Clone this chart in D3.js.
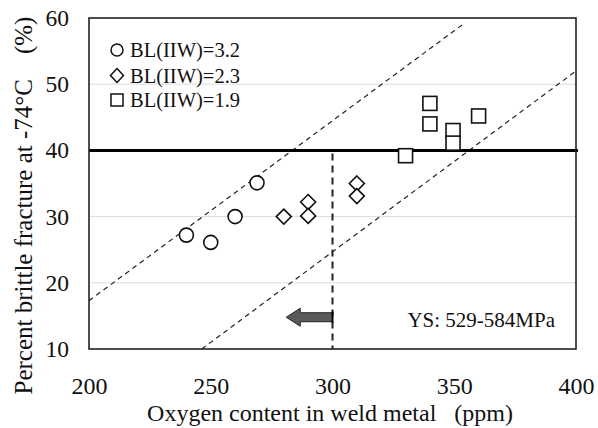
<!DOCTYPE html>
<html><head><meta charset="utf-8">
<script src="https://cdn.jsdelivr.net/npm/d3@7/dist/d3.min.js"></script>
<style>
body{margin:0;background:#fff;}
text{font-family:"Liberation Serif","Times New Roman",serif;fill:#111;}
</style></head>
<body><svg id="c" width="598" height="428"></svg>
<script>
// Data
const circles = [[240,27.2],[250,26.1],[260,30.0],[269,35.1]];           // BL(IIW)=3.2
const diamonds = [[280,30.0],[290,32.2],[290,30.1],[310,35.0],[310,33.1]]; // BL(IIW)=2.3
const squares = [[330,39.2],[340,47.1],[340,44.0],[349.5,43.0],[349.5,41.1],[360,45.2]]; // BL(IIW)=1.9
const legendLabels = ["BL(IIW)=3.2","BL(IIW)=2.3","BL(IIW)=1.9"];
const xTicks = [200,250,300,350,400];
const yTicks = [10,20,30,40,50,60];
const upperBand = [[200,17.3],[354.5,59.3]];
const lowerBand = [[246.3,10],[400,52.0]];
const limitY = 40;
const limitX = 300;
const arrowFrom = [300,14.8], arrowTo = [281,14.8];
const note = "YS: 529-584MPa";

const svg = d3.select("#c");
const L=89,R=576,T=18,B=349;
const x = d3.scaleLinear().domain([200,400]).range([L,R]);
const y = d3.scaleLinear().domain([10,60]).range([B,T]);

// gridlines
svg.append("g").selectAll("line").data(yTicks.filter(d=>d!==10&&d!==60&&d!==40)).join("line")
  .attr("x1",L).attr("x2",R).attr("y1",d=>y(d)).attr("y2",d=>y(d))
  .attr("stroke","#dcdcdc").attr("stroke-width",1);

// y tick labels
const yAxis = d3.axisLeft(y).tickValues(yTicks).tickSize(0).tickPadding(20);
const ga = svg.append("g").attr("transform",`translate(${L},0)`).call(yAxis);
ga.select(".domain").remove();
ga.selectAll("text").attr("font-size",23.5).attr("font-family","Liberation Serif").attr("fill","#111");

const xAxis = d3.axisBottom(x).tickValues(xTicks).tickSize(0).tickPadding(28);
const gx = svg.append("g").attr("transform",`translate(0,${B})`).call(xAxis);
gx.select(".domain").remove();
gx.selectAll("text").attr("font-size",24).attr("font-family","Liberation Serif").attr("fill","#111");

// band lines
const line = d3.line().x(d=>x(d[0])).y(d=>y(d[1]));
[upperBand,lowerBand].forEach(b=>{
  svg.append("path").attr("d",line(b)).attr("fill","none").attr("stroke","#222")
    .attr("stroke-width",1.2).attr("stroke-dasharray","5,4");
});

// limit lines
svg.append("line").attr("x1",L).attr("x2",R+2).attr("y1",y(limitY)).attr("y2",y(limitY))
  .attr("stroke","#000").attr("stroke-width",3);
svg.append("line").attr("x1",x(limitX)).attr("x2",x(limitX)).attr("y1",y(limitY)+3).attr("y2",B)
  .attr("stroke","#222").attr("stroke-width",2).attr("stroke-dasharray","7,5");

// arrow
{
  const x0=x(arrowFrom[0]), x1=x(arrowTo[0]), yc=y(arrowFrom[1]);
  const hl=14, bw=4.5, hw=9;
  const pts=[[x1,yc],[x1+hl,yc-hw],[x1+hl,yc-bw],[x0,yc-bw],[x0,yc+bw],[x1+hl,yc+bw],[x1+hl,yc+hw]];
  svg.append("path").attr("d","M"+pts.map(p=>p.join(",")).join("L")+"Z")
    .attr("fill","#5a5a5a").attr("stroke","#222").attr("stroke-width",1);
  svg.append("line").attr("x1",x0).attr("x2",x0).attr("y1",yc-bw-1).attr("y2",yc+bw+1)
    .attr("stroke","#000").attr("stroke-width",2);
}

// markers
svg.append("g").selectAll("circle").data(circles).join("circle")
  .attr("cx",d=>x(d[0])).attr("cy",d=>y(d[1])).attr("r",7)
  .attr("fill","#fff").attr("stroke","#111").attr("stroke-width",1.6);
svg.append("g").selectAll("path").data(diamonds).join("path")
  .attr("d",d=>{const cx=x(d[0]),cy=y(d[1]),s=7.5;return `M${cx},${cy-s}L${cx+s},${cy}L${cx},${cy+s}L${cx-s},${cy}Z`;})
  .attr("fill","#fff").attr("stroke","#111").attr("stroke-width",1.6);
svg.append("g").selectAll("rect").data(squares).join("rect")
  .attr("x",d=>x(d[0])-7).attr("y",d=>y(d[1])-7).attr("width",14).attr("height",14)
  .attr("fill","#fff").attr("stroke","#111").attr("stroke-width",1.6);

// frame
svg.append("rect").attr("x",L).attr("y",T).attr("width",R-L).attr("height",B-T)
  .attr("fill","none").attr("stroke","#222").attr("stroke-width",1.6);

// legend
const ly=[50,75.5,100], lx=117;
svg.append("circle").attr("cx",lx).attr("cy",ly[0]).attr("r",6).attr("fill","#fff").attr("stroke","#111").attr("stroke-width",1.5);
svg.append("path").attr("d",`M${lx},${ly[1]-7}L${lx+6.5},${ly[1]}L${lx},${ly[1]+7}L${lx-6.5},${ly[1]}Z`).attr("fill","#fff").attr("stroke","#111").attr("stroke-width",1.5);
svg.append("rect").attr("x",lx-6).attr("y",ly[2]-6).attr("width",12).attr("height",12).attr("fill","#fff").attr("stroke","#111").attr("stroke-width",1.5);
legendLabels.forEach((t,i)=>{
  svg.append("text").attr("x",130).attr("y",ly[i]+7).attr("font-size",20.5).text(t);
});

// note
svg.append("text").attr("x",555).attr("y",327).attr("text-anchor","end").attr("font-size",21).text(note);

// axis titles
svg.append("text").attr("x",(150+510)/2).attr("y",421).attr("text-anchor","middle").attr("font-size",24)
  .style("white-space","pre").text("Oxygen content in weld metal   (ppm)");
svg.append("text").attr("transform","translate(32,205.5) rotate(-90)").attr("text-anchor","middle").attr("font-size",25)
  .style("white-space","pre").text("Percent brittle fracture at -74°C    (%)");
</script></body></html>
